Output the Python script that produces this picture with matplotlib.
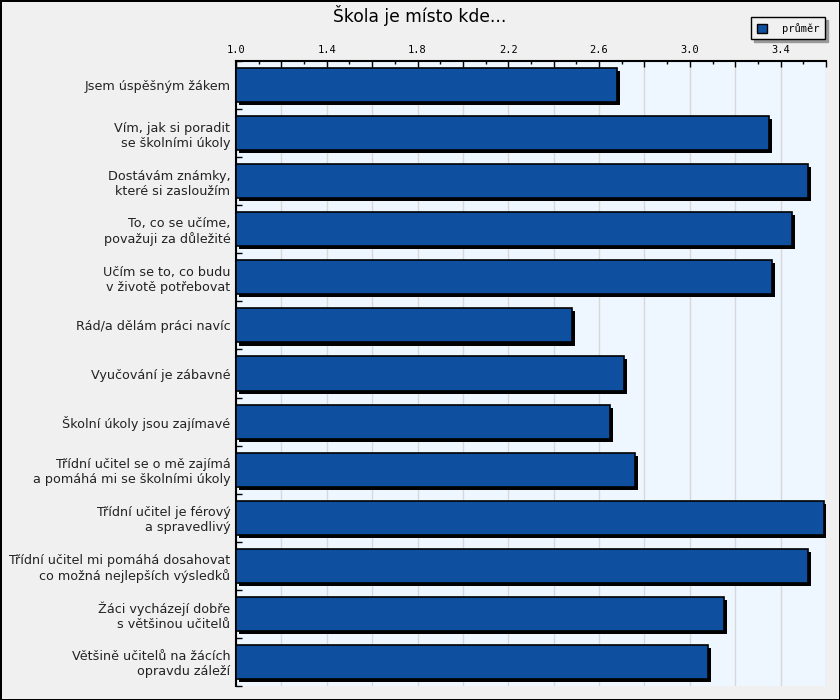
import matplotlib
matplotlib.use("Agg")
import matplotlib.pyplot as plt
import matplotlib.patheffects as pe
from matplotlib.patches import Patch
from matplotlib.ticker import MultipleLocator, FuncFormatter
import numpy as np

# data
labels = [
    "Jsem úspěšným žákem",
    "Vím, jak si poradit\nse školními úkoly",
    "Dostávám známky,\nkteré si zasloužím",
    "To, co se učíme,\npovažuji za důležité",
    "Učím se to, co budu\nv životě potřebovat",
    "Rád/a dělám práci navíc",
    "Vyučování je zábavné",
    "Školní úkoly jsou zajímavé",
    "Třídní učitel se o mě zajímá\na pomáhá mi se školními úkoly",
    "Třídní učitel je férový\na spravedlivý",
    "Třídní učitel mi pomáhá dosahovat\nco možná nejlepších výsledků",
    "Žáci vycházejí dobře\ns většinou učitelů",
    "Většině učitelů na žácích\nopravdu záleží",
]
prumer = [2.68, 3.35, 3.52, 3.45, 3.36, 2.48, 2.71, 2.65, 2.76, 3.59, 3.52, 3.15, 3.08]
base = 1.0
x_max = 3.6
bar_color = "#0E4FA0"

fig = plt.figure(figsize=(8.4, 7), dpi=100)
fig.patch.set_facecolor("#F0F0F0")
fig.patch.set_edgecolor("black")
fig.patch.set_linewidth(2)

ax = fig.add_axes([236 / 840, 14 / 700, 590 / 840, 625 / 700])
ax.set_facecolor("#EEF7FF")

y = np.arange(len(labels))
vals = np.array(prumer)
bars = ax.barh(y, vals - base, left=base, height=0.71, color=bar_color,
               edgecolor="black", linewidth=1.2, zorder=3)
for b in bars:
    b.set_path_effects([pe.SimplePatchShadow(offset=(2.2, -2.2), shadow_rgbFace="black", alpha=1),
                        pe.Normal()])

ax.set_xlim(base, x_max)
ax.set_ylim(len(labels) - 0.5, -0.5)

ax.xaxis.tick_top()
ax.xaxis.set_major_locator(MultipleLocator(0.2))
ax.xaxis.set_minor_locator(MultipleLocator(0.1))
ax.xaxis.set_major_formatter(FuncFormatter(
    lambda v, p: f"{v:.1f}" if abs(round((v - base) / 0.4) * 0.4 - (v - base)) < 1e-6 else ""))
ax.tick_params(axis="x", which="major", direction="in", length=4, width=1, pad=4,
               labelsize=7.5, labelfontfamily="DejaVu Sans Mono")
ax.tick_params(axis="x", which="minor", direction="in", length=2, width=1)
ax.grid(axis="x", which="major", color="#D8D8D8", linewidth=1, zorder=0)
ax.set_axisbelow(True)

ax.set_yticks(y)
ax.set_yticklabels(labels, fontsize=9.2, color="#222222", multialignment="right")
ax.yaxis.set_minor_locator(MultipleLocator(1, offset=0.5))
ax.tick_params(axis="y", which="major", length=0, pad=4)
ax.tick_params(axis="y", which="minor", direction="in", length=4, width=1)

for s in ["bottom", "right"]:
    ax.spines[s].set_visible(False)
ax.spines["left"].set_linewidth(1.5)
ax.spines["top"].set_linewidth(1.5)

fig.text(0.5, 1 - 15 / 700, "Škola je místo kde...", ha="center", va="center", fontsize=12.3)

handle = Patch(facecolor=bar_color, edgecolor="black", linewidth=1)
fig.legend(handles=[handle], labels=["průměr"], loc="upper right",
           bbox_to_anchor=(828 / 840, 1 - 14 / 700), fancybox=False, frameon=True,
           edgecolor="black", facecolor="#F0F0F0", framealpha=1,
           shadow={"color": "#999999", "alpha": 1},
           prop={"family": "DejaVu Sans Mono", "size": 7.5},
           handlelength=1.0, handleheight=1.0, borderpad=0.55, handletextpad=1.4,
           borderaxespad=0.3)

fig.savefig("out.png", dpi=100, facecolor=fig.get_facecolor(), edgecolor=fig.get_edgecolor())
